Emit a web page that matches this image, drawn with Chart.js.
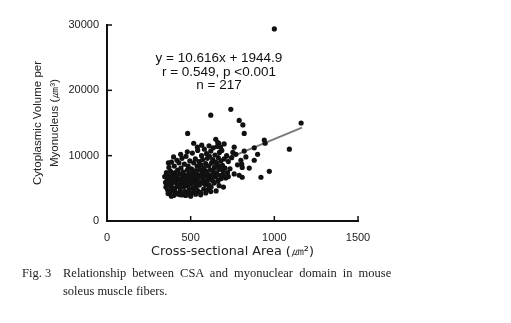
<!DOCTYPE html>
<html>
<head>
<meta charset="utf-8">
<script src="https://cdn.jsdelivr.net/npm/chart.js@4"></script>
<style>
  body { margin: 0; background: #fff; }
  #wrap { position: relative; width: 511px; height: 323px; }
  .caption { position: absolute; font-family: "Liberation Serif", serif; font-size: 12.5px; line-height: 14px; color: #222; white-space: nowrap; }
</style>
</head>
<body>
<div id="wrap">
  <canvas id="chart" width="511" height="323"></canvas>
  <div class="caption" style="left:22px; top:266px;">Fig. 3</div>
  <div class="caption" style="left:63px; top:266px; word-spacing:3px;">Relationship between CSA and myonuclear domain in mouse</div>
  <div class="caption" style="left:63px; top:284px;">soleus muscle fibers.</div>
</div>
<script>
// cross-sectional area (um2) of each fiber
const csa = [
  1000, 620, 740, 790, 812, 1160, 820, 1090, 940, 945, 880, 820, 752, 880, 970, 920, 808, 808, 805, 668,
  678, 482, 518, 566, 662, 440, 398, 367,
  345, 350, 352, 355, 360, 362, 368, 370, 372, 375, 378, 380, 383, 385, 388, 390, 392, 395, 398, 400,
  402, 405, 408, 410, 412, 415, 418, 420, 422, 425, 428, 430, 432, 435, 438, 440, 442, 445, 448, 450,
  452, 455, 458, 460, 462, 465, 468, 470, 472, 475, 478, 480, 482, 485, 488, 490, 492, 495, 498, 500,
  502, 505, 508, 510, 512, 515, 518, 520, 522, 525, 528, 530, 532, 535, 538, 540, 542, 545, 548, 550,
  552, 555, 558, 560, 562, 565, 568, 570, 572, 575, 578, 580, 582, 585, 588, 590, 592, 595, 598, 600,
  602, 605, 608, 610, 612, 615, 618, 620, 622, 625, 628, 630, 632, 635, 638, 640, 642, 645, 648, 650,
  652, 655, 658, 660, 662, 665, 668, 670, 672, 675, 678, 680, 683, 686, 690, 693, 696, 700, 705, 710,
  715, 720, 725, 735, 745, 760, 770, 780, 790, 800,
  365, 385, 440, 470, 500, 530, 560, 590, 620,
  455, 485, 515, 545, 575, 605, 635, 665, 695, 725, 480, 540, 610, 700, 650, 760, 830, 850, 900
];
// cytoplasmic volume per myonucleus (um3)
const cytoVolume = [
  29400, 16200, 17100, 15400, 14700, 15000, 13400, 11000, 12400, 11900, 11200, 10700, 10500, 9300, 7600, 6700, 6700, 8200, 8700, 11900,
  11300, 13400, 11900, 11600, 12000, 10200, 9800, 8900,
  6800, 5900, 5200, 7400, 6300, 4800, 5600, 8200, 6900, 4300, 6100, 7600, 5300, 9000, 6600, 4700, 5800, 7100, 3900, 6300,
  8400, 5000, 7400, 4400, 6000, 6800, 9300, 5500, 7800, 4100, 6400, 8900, 5200, 7200, 4600, 6000, 8100, 5600, 9600, 6800,
  4000, 7500, 5200, 6300, 8700, 4500, 7000, 5800, 9900, 6500, 4200, 7800, 5400, 8400, 6100, 4800, 7300, 9200, 5700, 6800,
  4300, 8000, 6200, 10400, 5100, 7400, 8900, 5900, 4500, 6900, 9500, 7700, 5300, 6400, 8400, 4700, 10800, 7100, 6000, 9100,
  5500, 7900, 4400, 6700, 8600, 10000, 5800, 7300, 9400, 6300, 4900, 8100, 11000, 6900, 5600, 8800, 7600, 10300, 6100, 9600,
  4800, 7100, 8400, 5500, 9900, 6600, 7800, 10700, 5200, 8900, 7000, 6200, 9400, 11200, 7500, 5800, 8200, 10100, 6800, 9000,
  4600, 7300, 11400, 8600, 6100, 9700, 7900, 5400, 10500, 8300, 7000, 9200, 6500, 10800, 8500, 7700, 5200, 9500, 8100, 6600,
  10000, 7400, 9100, 8000, 9700, 7200, 10200, 8600, 7000, 9300,
  4200, 3800, 4000, 3900, 3800, 4100, 4000, 4300, 4500,
  6100, 6900, 6600, 5900, 7800, 6400, 6900, 6300, 7000, 6800, 10600, 11300, 11500, 11800, 12500, 11300, 9800, 8100, 10200
];
// regression line ends
const fitX = [345, 1165];
const fitY = [5600, 14300];

const xTicks = [0, 500, 1000, 1500];
const yTicks = [0, 10000, 20000, 30000];
const statsText = ['y = 10.616x + 1944.9', 'r = 0.549, p <0.001', 'n = 217'];
const statsAt = { x: 669, y: 24900 };

const scatterPts = csa.map((x, i) => ({ x: x, y: cytoVolume[i] }));
const fitPts = fitX.map((x, i) => ({ x: x, y: fitY[i] }));

// inward tick marks + the equation text
const extras = {
  id: 'extras',
  afterDraw(c) {
    const ctx = c.ctx;
    const xs = c.scales.x, ys = c.scales.y;
    ctx.save();
    ctx.strokeStyle = '#111';
    ctx.lineWidth = 1.5;
    xTicks.slice(1).forEach(v => {
      const px = xs.getPixelForValue(v);
      ctx.beginPath(); ctx.moveTo(px, ys.bottom); ctx.lineTo(px, ys.bottom - 5); ctx.stroke();
    });
    yTicks.slice(1).forEach(v => {
      const py = ys.getPixelForValue(v);
      ctx.beginPath(); ctx.moveTo(xs.left, py); ctx.lineTo(xs.left + 5, py); ctx.stroke();
    });
    ctx.fillStyle = '#111';
    ctx.font = '13.5px "Liberation Sans", Arial, sans-serif';
    ctx.textAlign = 'center';
    ctx.textBaseline = 'middle';
    const cx = xs.getPixelForValue(statsAt.x);
    const cy = ys.getPixelForValue(statsAt.y);
    statsText.forEach((t, i) => ctx.fillText(t, cx, cy + i * 13.5));
    ctx.restore();
  }
};

new Chart(document.querySelector('#chart').getContext('2d'), {
  type: 'scatter',
  data: {
    datasets: [
      {
        label: 'fibers',
        data: scatterPts,
        backgroundColor: '#111',
        borderColor: '#111',
        pointRadius: 2.6,
        pointBorderWidth: 0
      },
      {
        type: 'line',
        label: 'fit',
        data: fitPts,
        borderColor: '#7a7a7a',
        borderWidth: 2,
        pointRadius: 0,
        fill: false
      }
    ]
  },
  options: {
    responsive: false,
    animation: false,
    events: [],
    layout: { padding: { left: 0, top: 25, right: 153, bottom: 62 } },
    plugins: { legend: { display: false }, tooltip: { enabled: false } },
    scales: {
      x: {
        type: 'linear',
        min: 0, max: 1500,
        afterFit: s => { s.height = 40; },
        afterBuildTicks: s => { s.ticks = xTicks.map(v => ({ value: v })); },
        grid: { display: true, drawOnChartArea: false, drawTicks: false },
        border: { color: '#111', width: 2 },
        ticks: { padding: 10, color: '#222', font: { family: '"Liberation Sans", Arial', size: 11 }, maxRotation: 0, callback: v => String(v) },
        title: {
          display: true,
          text: 'Cross-sectional Area (㎛²)',
          color: '#222',
          font: { family: '"DejaVu Sans", sans-serif', size: 12.8 },
          padding: { top: 2, bottom: 2 }
        }
      },
      y: {
        type: 'linear',
        min: 0, max: 30000,
        afterFit: s => { s.width = 107; },
        afterBuildTicks: s => { s.ticks = yTicks.map(v => ({ value: v })); },
        grid: { display: true, drawOnChartArea: false, drawTicks: false },
        border: { color: '#111', width: 2 },
        ticks: { padding: 8, color: '#222', font: { family: '"Liberation Sans", Arial', size: 11 }, callback: v => String(v) },
        title: {
          display: true,
          text: ['Cytoplasmic Volume per', 'Myonucleus (㎛³)'],
          color: '#222',
          font: { family: '"Liberation Sans", Arial', size: 11.5, lineHeight: 1.5 },
          padding: { top: 29, bottom: 0 }
        }
      }
    }
  },
  plugins: [extras]
});
</script>
</body>
</html>
